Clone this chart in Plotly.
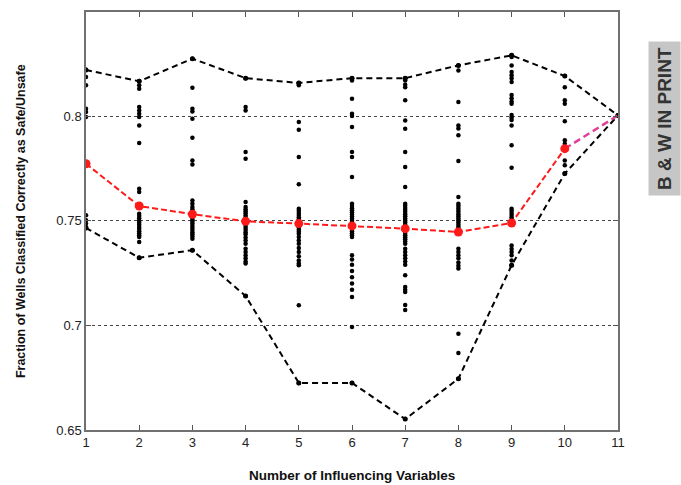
import plotly.graph_objects as go

x_vals = [1, 2, 3, 4, 5, 6, 7, 8, 9, 10, 11]
upper_env = [0.8220, 0.8166, 0.8274, 0.8181, 0.8158, 0.8181, 0.8181, 0.8242, 0.8290, 0.8191, 0.8003]
lower_env = [0.7465, 0.7323, 0.7359, 0.7140, 0.6725, 0.6725, 0.6552, 0.6745, 0.7287, 0.7725, 0.8003]
mean_vals = [0.7772, 0.7570, 0.7531, 0.7497, 0.7486, 0.7475, 0.7462, 0.7446, 0.7489, 0.7844, 0.8003]

dots_1 = [0.8221, 0.8186, 0.8147, 0.8035, 0.8019, 0.7995, 0.7526, 0.7502, 0.7486, 0.7470, 0.7465]
dots_2 = [0.8167, 0.8147, 0.8130, 0.8043, 0.8027, 0.8011, 0.7995, 0.7955, 0.7871, 0.7653, 0.7637, 0.7533, 0.7522,
          0.7512, 0.7500, 0.7490, 0.7480, 0.7470, 0.7460, 0.7450, 0.7440, 0.7430, 0.7422, 0.7398, 0.7323]
dots_3 = [0.8274, 0.8135, 0.8035, 0.8022, 0.7987, 0.7896, 0.7788, 0.7769, 0.7597, 0.7581, 0.7565, 0.7555, 0.7545,
          0.7535, 0.7525, 0.7515, 0.7505, 0.7495, 0.7485, 0.7475, 0.7465, 0.7455, 0.7445, 0.7435, 0.7425, 0.7414, 0.7359]
dots_4 = [0.8181, 0.8043, 0.8027, 0.7828, 0.7796, 0.7589, 0.7565, 0.7555, 0.7545, 0.7535, 0.7525, 0.7515, 0.7505,
          0.7495, 0.7485, 0.7475, 0.7465, 0.7455, 0.7445, 0.7435, 0.7420, 0.7405, 0.7390, 0.7366, 0.7350, 0.7335,
          0.7320, 0.7305, 0.7295, 0.7140]
dots_5 = [0.8158, 0.8147, 0.7971, 0.7935, 0.7804, 0.7674, 0.7557, 0.7547, 0.7537, 0.7527, 0.7517, 0.7507, 0.7497,
          0.7487, 0.7477, 0.7467, 0.7457, 0.7447, 0.7438, 0.7422, 0.7405, 0.7390, 0.7370, 0.7350, 0.7330, 0.7310,
          0.7295, 0.7287, 0.7096, 0.6725]
dots_6 = [0.8181, 0.8170, 0.8083, 0.8011, 0.8000, 0.7947, 0.7828, 0.7804, 0.7709, 0.7581, 0.7570, 0.7560, 0.7550,
          0.7540, 0.7530, 0.7520, 0.7510, 0.7500, 0.7490, 0.7480, 0.7470, 0.7460, 0.7450, 0.7440, 0.7430, 0.7422,
          0.7335, 0.7315, 0.7290, 0.7260, 0.7230, 0.7200, 0.7170, 0.7136, 0.6992, 0.6725]
dots_7 = [0.8181, 0.8170, 0.8150, 0.8138, 0.8075, 0.7979, 0.7939, 0.7828, 0.7756, 0.7661, 0.7581, 0.7571, 0.7561,
          0.7551, 0.7541, 0.7531, 0.7521, 0.7511, 0.7501, 0.7491, 0.7481, 0.7471, 0.7461, 0.7451, 0.7441, 0.7431,
          0.7421, 0.7411, 0.7400, 0.7390, 0.7366, 0.7350, 0.7335, 0.7320, 0.7305, 0.7290, 0.7239, 0.7183, 0.7170,
          0.7159, 0.7097, 0.7073, 0.6552]
dots_8 = [0.8242, 0.8218, 0.8067, 0.7955, 0.7940, 0.7908, 0.7785, 0.7613, 0.7581, 0.7571, 0.7561, 0.7551, 0.7541,
          0.7531, 0.7521, 0.7511, 0.7501, 0.7491, 0.7481, 0.7471, 0.7461, 0.7454, 0.7366, 0.7350, 0.7335, 0.7320,
          0.7300, 0.7285, 0.7271, 0.6960, 0.6868, 0.6745]
dots_9 = [0.8290, 0.8282, 0.8242, 0.8210, 0.8195, 0.8180, 0.8162, 0.8100, 0.8085, 0.8070, 0.8059, 0.8005, 0.7993,
          0.7981, 0.7955, 0.7860, 0.7753, 0.7557, 0.7547, 0.7537, 0.7527, 0.7517, 0.7507, 0.7497, 0.7486, 0.7382,
          0.7365, 0.7350, 0.7335, 0.7310, 0.7287]
dots_10 = [0.8191, 0.8138, 0.8075, 0.8059, 0.7975, 0.7884, 0.7868, 0.7788, 0.7765, 0.7725]
dots_11 = [0.8003]

all_dots = [dots_1, dots_2, dots_3, dots_4, dots_5, dots_6, dots_7, dots_8, dots_9, dots_10, dots_11]

x_ticks = [1, 2, 3, 4, 5, 6, 7, 8, 9, 10, 11]
y_ticks = [0.65, 0.7, 0.75, 0.8]
y_tick_text = ["0.65", "0.7", "0.75", "0.8"]

x_title = "Number of Influencing Variables"
y_title = "Fraction of Wells Classified Correctly as Safe/Unsafe"
side_label = "B & W IN PRINT"

FONT = "Liberation Sans, Arial, sans-serif"

dx, dy = [], []
for xv, ds in zip(x_vals, all_dots):
    for d in ds:
        dx.append(xv)
        dy.append(d)

fig = go.Figure()

fig.add_trace(go.Scatter(x=dx, y=dy, mode="markers",
                         marker=dict(color="black", size=4.5), showlegend=False))
fig.add_trace(go.Scatter(x=x_vals, y=upper_env, mode="lines+markers",
                         line=dict(color="black", width=2, dash="6px,4px"),
                         marker=dict(color="black", size=5), showlegend=False))
fig.add_trace(go.Scatter(x=x_vals, y=lower_env, mode="lines+markers",
                         line=dict(color="black", width=2, dash="6px,4px"),
                         marker=dict(color="black", size=5), showlegend=False))
fig.add_trace(go.Scatter(x=x_vals[9:], y=mean_vals[9:], mode="lines",
                         line=dict(color="#e0409a", width=2.5, dash="7px,4px"), showlegend=False))
fig.add_trace(go.Scatter(x=x_vals[:10], y=mean_vals[:10], mode="lines+markers",
                         line=dict(color="#ff1a1a", width=2, dash="6px,3px"),
                         marker=dict(color="#ff1a1a", size=9), showlegend=False))

fig.update_layout(
    width=681, height=485,
    margin=dict(l=86, r=63, t=10, b=55),
    paper_bgcolor="white", plot_bgcolor="white",
    font=dict(family=FONT, size=12, color="#222"),
    xaxis=dict(range=[1, 11], tickvals=x_ticks, ticks="inside", ticklen=5, tickcolor="#555",
               showgrid=False, zeroline=False, showline=True, linecolor="#707070", linewidth=1.5,
               mirror="ticks", tickfont=dict(family=FONT, size=13, color="#222")),
    yaxis=dict(range=[0.65, 0.8497], tickvals=y_ticks, ticktext=y_tick_text, ticks="inside", ticklen=5,
               tickcolor="#555", showgrid=True, gridcolor="#444", griddash="dot", gridwidth=1,
               zeroline=False, showline=True, linecolor="#707070", linewidth=1.5, mirror="ticks",
               tickfont=dict(family=FONT, size=13, color="#222")),
    annotations=[
        dict(text="<b>" + x_title + "</b>", xref="paper", yref="paper", x=0.5, y=-0.085,
             xanchor="center", yanchor="top", showarrow=False, font=dict(family=FONT, size=13.5, color="#111")),
        dict(text="<b>" + y_title + "</b>", xref="paper", yref="paper", x=-0.122, y=0.5,
             xanchor="center", yanchor="middle", textangle=-90, showarrow=False,
             font=dict(family=FONT, size=12.5, color="#111")),
        dict(text="<b>" + side_label + "</b>", xref="paper", yref="paper", x=1.0865, y=0.744,
             xanchor="center", yanchor="middle", textangle=-90, showarrow=False,
             bgcolor="#c6c6c6", borderpad=5,
             font=dict(family=FONT, size=19, color="#333")),
    ],
)

fig.write_html("out.html", config={"displayModeBar": False},
               post_script="document.body.style.margin='0px';document.body.style.overflow='hidden';")
